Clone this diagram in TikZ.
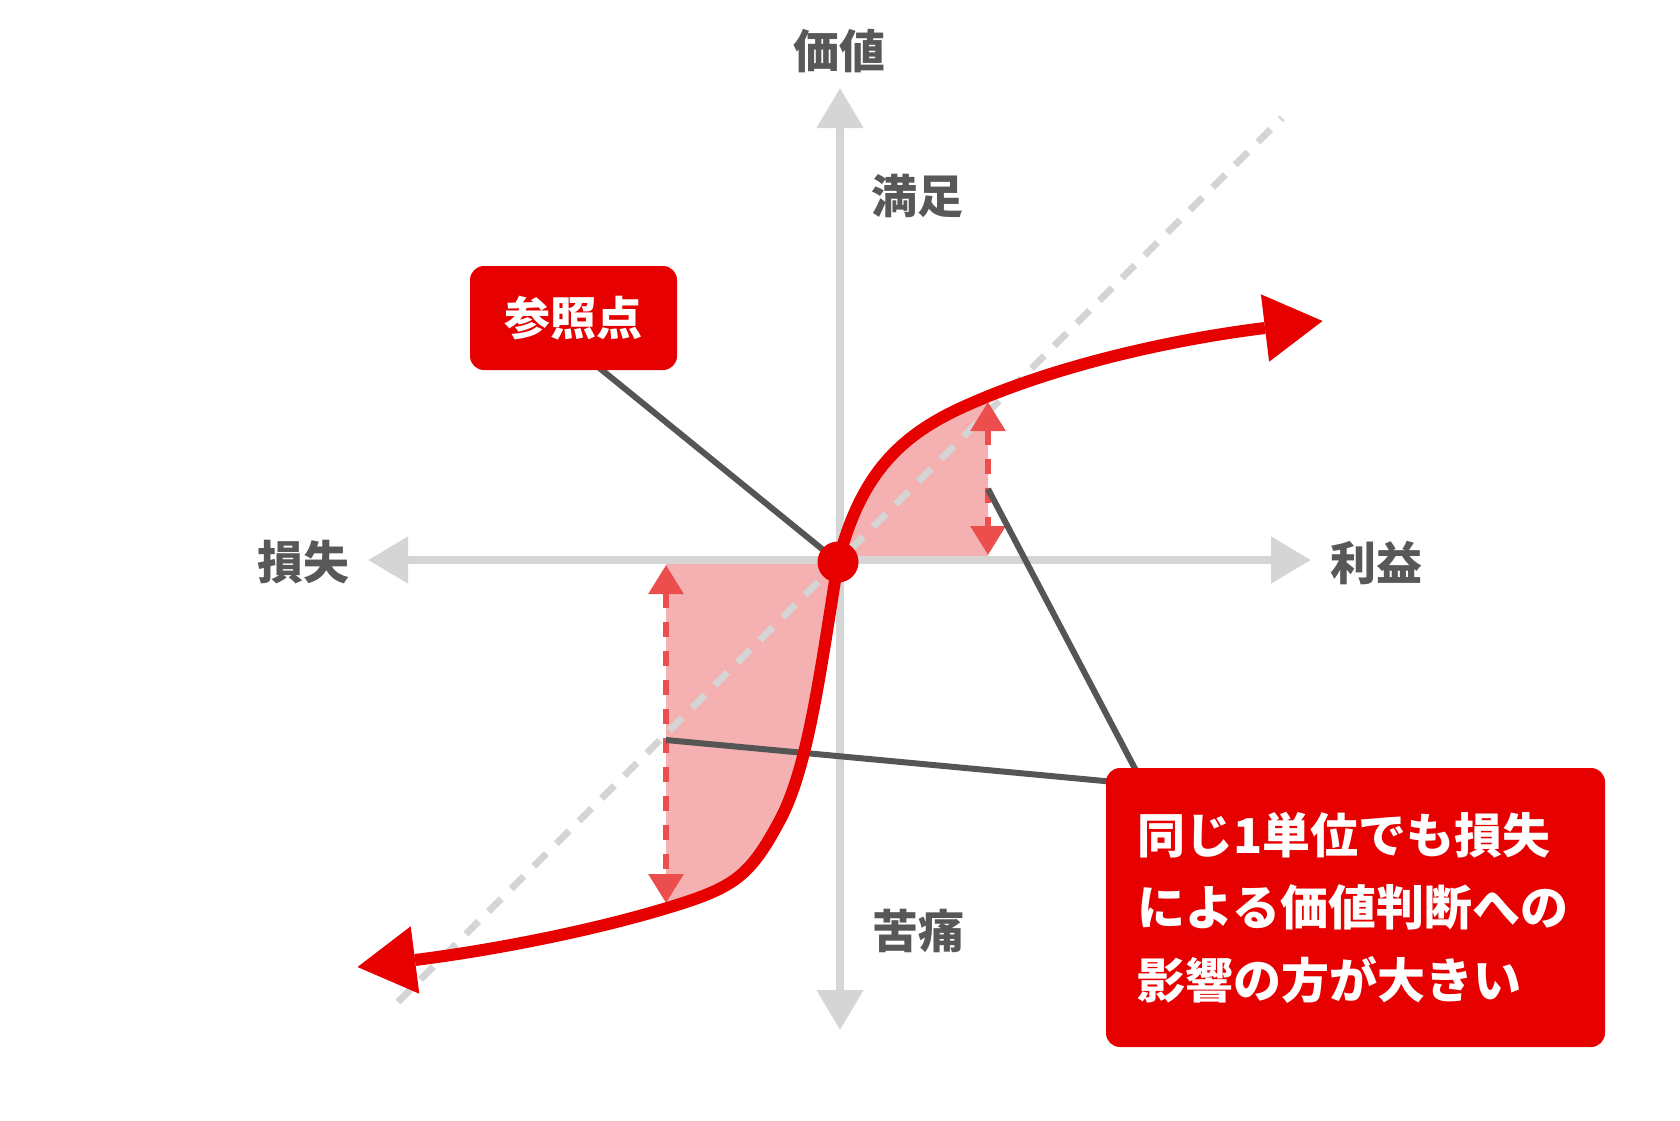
\documentclass[tikz,border=0pt]{standalone}
\usepackage{fontspec}
\setmainfont{Noto Sans CJK JP}
\usetikzlibrary{arrows.meta}
\definecolor{kred}{RGB}{230,0,0}
\definecolor{kpink}{RGB}{245,177,177}
\definecolor{kdash}{RGB}{236,78,78}
\definecolor{kaxis}{RGB}{213,213,213}
\definecolor{ktext}{RGB}{88,88,88}
\definecolor{kline}{RGB}{85,85,85}
\begin{document}
\begin{tikzpicture}[x=1pt,y=-1pt,
  lbl/.style={font=\fontsize{46}{50}\selectfont\bfseries, text=ktext, inner sep=0pt, anchor=base},
  axisln/.style={draw=kaxis, line width=8pt, arrows={Triangle[length=40pt,width=45pt]-Triangle[length=40pt,width=45pt]}},
  diag/.style={draw=kaxis, line width=7pt, dash pattern=on 18pt off 14pt},
  gaparrow/.style={draw=kdash, line width=6pt, dash pattern=on 15pt off 14pt, arrows={Triangle[length=29pt,width=34pt]-Triangle[length=29pt,width=34pt]}},
  conn/.style={draw=kline, line width=6pt},
  curveln/.style={draw=kred, line width=12pt},
  redbox/.style={fill=kred, rounded corners=14pt, text=white, inner sep=0pt},
]
\useasboundingbox (0,0) rectangle (1680,1120);
\def\curvepath{(415,960) .. controls (494.4,949.9) and (590.4,931.1) .. (667,908)
  .. controls (734,887.8) and (749.45,877.2) .. (780,820)
  .. controls (808.2,767.2) and (820.4,670.6) .. (838,562)
  .. controls (860.5,474.7) and (899.3,436) .. (963,407)
  .. controls (1049.5,367.6) and (1165.8,340.2) .. (1265,328)}

% shaded areas
\begin{scope}
  \clip (666,560) rectangle (840,1050);
  \fill[kpink] \curvepath -- (1680,0) -- (0,0) -- cycle;
\end{scope}
\begin{scope}
  \clip (838,300) rectangle (988,560);
  \fill[kpink] \curvepath -- (1680,1120) -- (0,1120) -- cycle;
\end{scope}

% axes
\coordinate (axL) at (368,560);
\coordinate (axR) at (1311,560);
\coordinate (axT) at (840,88);
\coordinate (axB) at (840,1030);
\draw[axisln] (axL) -- (axR);
\draw[axisln] (axB) -- (axT);

% diagonal reference line
\coordinate (dA) at (398,1002);
\coordinate (dB) at (1282,118);
\draw[diag] (dA) -- (dB);

% difference arrows
\coordinate (lossTop) at (666,565);
\coordinate (lossBot) at (666,903);
\coordinate (gainTop) at (988,402);
\coordinate (gainBot) at (988,555);
\draw[gaparrow] (lossTop) -- (lossBot);
\draw[gaparrow] (gainTop) -- (gainBot);

% connectors
\coordinate (Oc) at (838,562);
\coordinate (refout) at (597,366);
\coordinate (lossp) at (666,740);
\coordinate (gainp) at (988,489);
\coordinate (cin1) at (1115,782);
\coordinate (cin2) at (1142,782);
\draw[conn] (refout) -- (Oc);
\draw[conn] (lossp) -- (cin1);
\draw[conn] (gainp) -- (cin2);

% value curve
\draw[curveln] \curvepath;
\coordinate (tipR) at (1322.5,321);
\coordinate (tipL) at (357.5,967);
\fill[kred] (tipR) -- (1260.9,294.3) -- (1269.1,361.7) -- cycle;
\fill[kred] (tipL) -- (410.7,926.3) -- (419.3,993.7) -- cycle;

% reference point dot and boxes
\node[circle, fill=kred, minimum size=41pt, inner sep=0pt] (O) at (Oc) {};
\node[redbox, minimum width=207pt, minimum height=104pt, font=\fontsize{46}{50}\selectfont\bfseries] (ref) at (573.5,318) {参照点};
\node[redbox, minimum width=499pt, minimum height=279pt, text width=436pt, align=left, font=\fontsize{48}{72.5}\selectfont\bfseries] (callout) at (1355.5,907.5) {同じ1単位でも損失\\による価値判断への\\影響の方が大きい};

% labels
\node[lbl] (lv) at (839,68) {価値};
\node[lbl] (ls) at (917,213) {満足};
\node[lbl] (ll) at (303.5,579) {損失};
\node[lbl] (lg) at (1376,580) {利益};
\node[lbl] (lp) at (918,948) {苦痛};
\end{tikzpicture}
\end{document}
